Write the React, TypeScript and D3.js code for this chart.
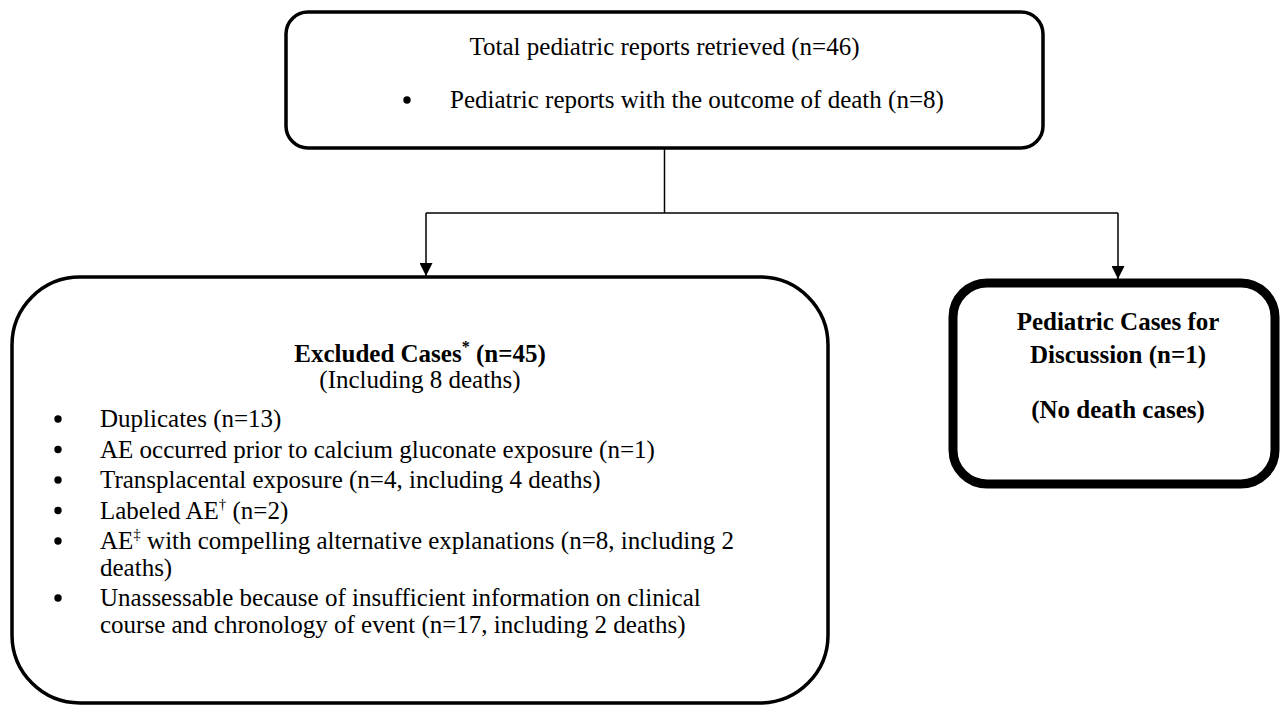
import { useEffect, useRef } from "react";
import * as d3 from "d3";

const width = 1280;
const height = 707;

// text content of the flow chart
const topTitle = "Total pediatric reports retrieved (n=46)";
const topBullets = ["Pediatric reports with the outcome of death (n=8)"];

const excludedTitle = ["Excluded Cases", "*", " (n=45)"];
const excludedSub = "(Including 8 deaths)";
// each item: wrapped lines, each line a list of [text, isSuperscript]
const excludedItems: [string, boolean][][][] = [
  [[["Duplicates (n=13)", false]]],
  [[["AE occurred prior to calcium gluconate exposure (n=1)", false]]],
  [[["Transplacental exposure (n=4, including 4 deaths)", false]]],
  [[["Labeled AE", false], ["\u2020", true], [" (n=2)", false]]],
  [
    [["AE", false], ["\u2021", true], [" with compelling alternative explanations (n=8, including 2", false]],
    [["deaths)", false]],
  ],
  [
    [["Unassessable because of insufficient information on clinical", false]],
    [["course and chronology of event (n=17, including 2 deaths)", false]],
  ],
];

const discussionTitle = ["Pediatric Cases for", "Discussion (n=1)"];
const discussionSub = "(No death cases)";

const font = "'Liberation Serif', 'Times New Roman', serif";

export default function App() {
  const ref = useRef<SVGSVGElement>(null);

  useEffect(() => {
    const svg = d3.select(ref.current);
    svg.selectAll("*").remove();

    svg.append("defs").append("marker")
      .attr("id", "arrow")
      .attr("viewBox", "0 0 10 10")
      .attr("refX", 10)
      .attr("refY", 5)
      .attr("markerWidth", 13)
      .attr("markerHeight", 13)
      .attr("markerUnits", "userSpaceOnUse")
      .attr("orient", "auto")
      .append("path")
      .attr("d", "M0,0 L10,5 L0,10 Z")
      .attr("fill", "#000");

    // boxes
    const top = { x: 286, y: 12, w: 757, h: 136, r: 22, sw: 3.5 };
    const left = { x: 12, y: 277, w: 816, h: 426, r: 68, sw: 3.5 };
    const right = { x: 953, y: 283, w: 322, h: 201, r: 34, sw: 9 };

    [top, left, right].forEach(b => {
      svg.append("rect")
        .attr("x", b.x)
        .attr("y", b.y)
        .attr("width", b.w)
        .attr("height", b.h)
        .attr("rx", b.r)
        .attr("ry", b.r)
        .attr("fill", "#fff")
        .attr("stroke", "#000")
        .attr("stroke-width", b.sw);
    });

    // connectors
    const midX = top.x + top.w / 2;
    const barY = 213;
    const leftX = 426;
    const rightX = 1118;
    const line = d3.line();
    const conn = (pts: [number, number][], arrow: boolean) => {
      const p = svg.append("path")
        .attr("d", line(pts))
        .attr("stroke", "#000")
        .attr("stroke-width", 1.5)
        .attr("fill", "none");
      if (arrow) p.attr("marker-end", "url(#arrow)");
    };
    conn([[midX, top.y + top.h + 1], [midX, barY]], false);
    conn([[leftX, barY], [rightX, barY]], false);
    conn([[leftX, barY], [leftX, left.y - 1]], true);
    conn([[rightX, barY], [rightX, right.y - 4]], true);

    const fs = 25;
    const g = svg.append("g")
      .attr("font-family", font)
      .attr("font-size", fs)
      .attr("fill", "#000");

    // top box text
    g.append("text")
      .attr("x", midX)
      .attr("y", 55)
      .attr("text-anchor", "middle")
      .text(topTitle);
    topBullets.forEach((t, i) => {
      g.append("circle").attr("cx", 407).attr("cy", 100 + i * 30).attr("r", 3.7);
      g.append("text").attr("x", 450).attr("y", 108 + i * 30).text(t);
    });

    // excluded box header
    const boxMid = left.x + left.w / 2;
    const et = g.append("text")
      .attr("x", boxMid)
      .attr("y", 362)
      .attr("text-anchor", "middle")
      .attr("font-weight", "bold");
    et.append("tspan").text(excludedTitle[0]);
    et.append("tspan").attr("font-size", 16).attr("dy", -10).text(excludedTitle[1]);
    et.append("tspan").attr("dy", 10).text(excludedTitle[2]);
    g.append("text")
      .attr("x", boxMid)
      .attr("y", 388)
      .attr("text-anchor", "middle")
      .text(excludedSub);

    // excluded items, wrapped lines kept in one text element
    const textX = 100;
    const wrapGap = 26.5;
    const itemGap = 30.5;
    let y = 427;
    excludedItems.forEach(item => {
      g.append("circle").attr("cx", 58).attr("cy", y - 8).attr("r", 3.7);
      const t = g.append("text").attr("x", textX).attr("y", y);
      let shift = 0;
      item.forEach((ln, li) => {
        ln.forEach(([s, sup], si) => {
          const sp = t.append("tspan").text(s);
          let dy = 0;
          if (li > 0 && si === 0) {
            sp.attr("x", textX);
            dy += wrapGap - shift;
            shift = 0;
          }
          if (sup) {
            dy += -10;
            shift = -10;
            sp.attr("font-size", 15);
          } else if (shift !== 0) {
            dy += -shift;
            shift = 0;
          }
          if (dy !== 0) sp.attr("dy", dy);
        });
      });
      y += (item.length - 1) * wrapGap + itemGap;
    });

    // discussion box
    const dg = g.append("g").attr("font-weight", "bold").attr("text-anchor", "middle");
    discussionTitle.forEach((t, i) => {
      dg.append("text").attr("x", rightX).attr("y", 330 + i * 33).text(t);
    });
    dg.append("text").attr("x", rightX).attr("y", 418).text(discussionSub);
  }, []);

  return (
    <svg
      ref={ref}
      width={width}
      height={height}
      style={{ position: "absolute", left: 0, top: 0, background: "#fff" }}
    />
  );
}
